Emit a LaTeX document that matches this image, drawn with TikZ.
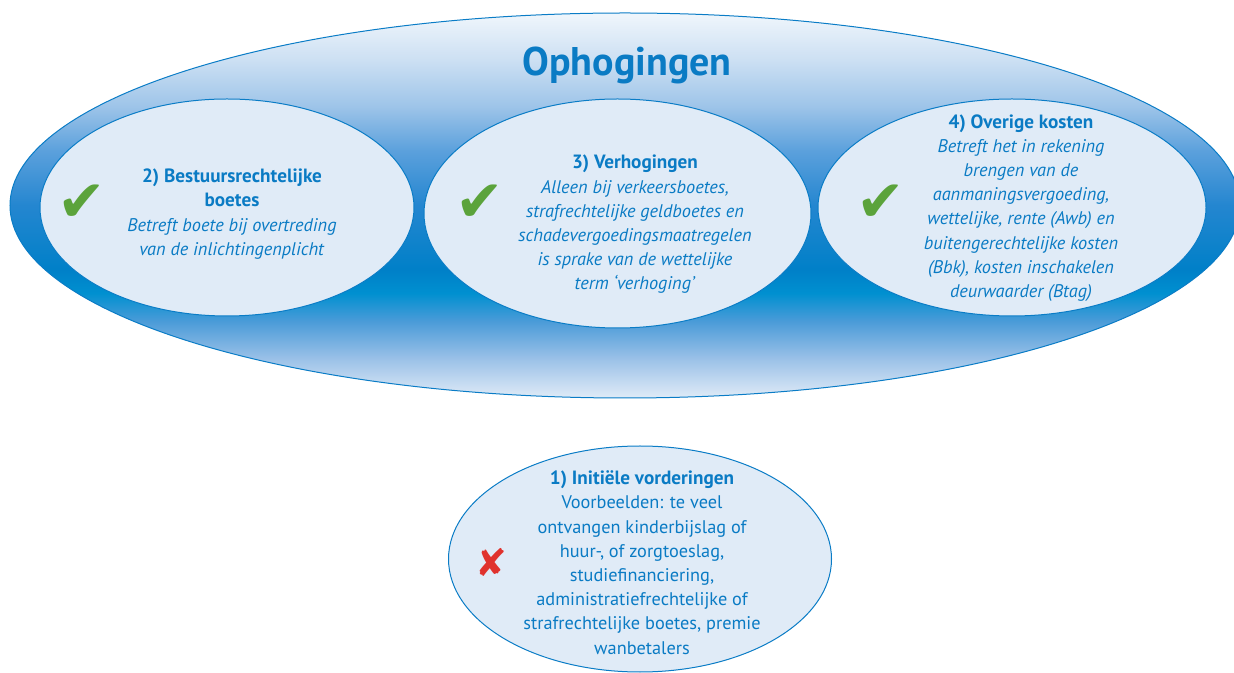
\documentclass[tikz,border=0pt]{standalone}
\usepackage{fontspec}
\setmainfont{PT Sans}
\newfontfamily\symbfont{DejaVu Sans}
\usetikzlibrary{shapes.geometric}

\definecolor{ophoogtekst}{HTML}{0A7BC4}
\definecolor{ophoogrand}{HTML}{0A7CC6}
\definecolor{ophoogbel}{HTML}{E0EBF7}
\definecolor{ophoogvink}{HTML}{5BA33B}
\definecolor{ophoogkruis}{HTML}{E0322D}

\newcommand\kop[1]{{\fontsize{19.2}{24.2}\selectfont\bfseries #1}} % bold heading line

% vertical fill of the big ellipse (25bp = bottom, 75bp = top)
\pgfdeclareverticalshading{ophoog}{100bp}{%
  color(0bp)=(ophoogbel);
  color(25bp)=(ophoogbel);
  color(30bp)=(rgb,255:red,156;green,194;blue,232);
  color(35bp)=(rgb,255:red,74;green,155;blue,216);
  color(38.6bp)=(rgb,255:red,0;green,144;blue,208);
  color(41.6bp)=(rgb,255:red,0;green,128;blue,200);
  color(50bp)=(rgb,255:red,36;green,134;blue,208);
  color(57bp)=(rgb,255:red,90;green,160;blue,220);
  color(63bp)=(rgb,255:red,159;green,197;blue,233);
  color(69bp)=(rgb,255:red,205;green,224;blue,243);
  color(75bp)=(rgb,255:red,240;green,246;blue,252);
  color(100bp)=(rgb,255:red,240;green,246;blue,252)}

\begin{document}
\begin{tikzpicture}[
            x = 1pt, y = 1pt, % one pixel of the reference
            kader/.style = {shape=ellipse, draw=ophoogrand, line width=1pt, inner sep=0pt},
            bel/.style = {kader, fill=ophoogbel},
            tekst/.style = {align=center, text=ophoogtekst, font=\fontsize{18.3}{24.2}\selectfont},
            titel/.style = {text=ophoogtekst, font=\fontsize{40}{40}\selectfont\bfseries},
            vink/.style = {text=ophoogvink, font=\symbfont\fontsize{58}{58}\selectfont},
            kruis/.style = {text=ophoogkruis, font=\symbfont\fontsize{38}{38}\selectfont}
        ]
        \useasboundingbox (0,0) rectangle (1234,672);

        % outer ellipse
        \node[kader, shading=ophoog, minimum width=1230pt, minimum height=385pt] (ophogingen) at (625,466.5) {};
        \node[titel] (titel) at (627,607) {Ophogingen};

        % the three inner ellipses
        \node[bel, minimum width=374pt, minimum height=217pt] (boetes)    at (227,464.5) {};
        \node[bel, minimum width=387pt, minimum height=229pt] (verhoging) at (617.5,458.5) {};
        \node[bel, minimum width=388pt, minimum height=217pt] (kosten)    at (1012,464.5) {};

        % the ellipse below
        \node[bel, minimum width=383pt, minimum height=226pt] (initieel)  at (640,113) {};

        \node[tekst] (boetes-t) at (232,458) {\kop{2) Bestuursrechtelijke}\\ \kop{boetes}\\
            \textit{Betreft boete bij overtreding}\\ \textit{van de inlichtingenplicht}};
        \node[tekst] (verhoging-t) at (635,447.5) {\kop{3) Verhogingen}\\
            \textit{Alleen bij verkeersboetes,}\\ \textit{strafrechtelijke geldboetes en}\\
            \textit{schadevergoedingsmaatregelen}\\ \textit{is sprake van de wettelijke}\\
            \textit{term ‘verhoging’}};
        \node[tekst] (kosten-t) at (1021,464) {\kop{4) Overige kosten}\\
            \textit{Betreft het in rekening}\\ \textit{brengen van de}\\
            \textit{aanmaningsvergoeding,}\\ \textit{wettelijke, rente (Awb) en}\\
            \textit{buitengerechtelijke kosten}\\ \textit{(Bbk), kosten inschakelen}\\
            \textit{deurwaarder (Btag)}};
        \node[tekst] (initieel-t) at (642,109.5) {\kop{1) Initiële vorderingen}\\
            Voorbeelden: te veel\\ ontvangen kinderbijslag of\\ huur-, of zorgtoeslag,\\
            studiefinanciering,\\ administratiefrechtelijke of\\
            strafrechtelijke boetes, premie\\ wanbetalers};

        % marks
        \node[vink]  (boetes-v)    at (82,469)  {✔};
        \node[vink]  (verhoging-v) at (480,469) {✔};
        \node[vink]  (kosten-v)    at (881,469) {✔};
        \node[kruis] (initieel-x)  at (491,110) {✘};
    \end{tikzpicture}
\end{document}
